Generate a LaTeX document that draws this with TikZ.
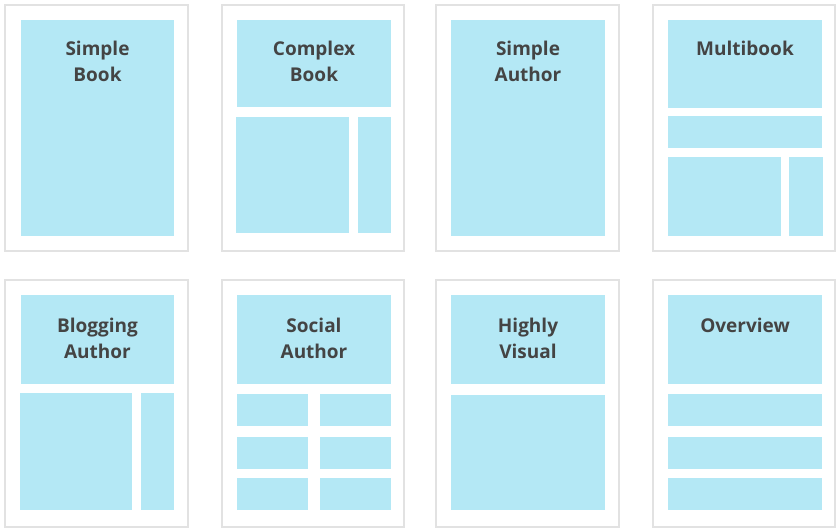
\documentclass[tikz,border=0pt]{standalone}
\usepackage{fontspec}
\setmainfont{Open Sans}
\definecolor{panel}{HTML}{B4E8F5}
\definecolor{frameline}{HTML}{E2E2E2}
\definecolor{ink}{HTML}{444444}
\tikzset{
  page/.style={draw=frameline, line width=1.6pt, fill=white},
  block/.style={fill=panel},
  label/.style={anchor=base, inner sep=0pt, text=ink, font=\fontsize{19}{24}\selectfont\bfseries}
}
\begin{document}
\begin{tikzpicture}[x=1pt,y=-1pt]
\useasboundingbox (0,0) rectangle (840,532);
\fill[white] (0,0) rectangle (840,532);

% ---------- top row ----------
% Simple Book
\draw[page] (5,5) rectangle (188,251);
\fill[block] (21,20) rectangle (174,236);
\node[label] (sb1) at (97.5,56) {Simple};
\node[label] (sb2) at (97.5,82) {Book};

% Complex Book
\draw[page] (222,5) rectangle (404,251);
\fill[block] (237,20) rectangle (391,107);
\fill[block] (236,117) rectangle (349,233);
\fill[block] (358,117) rectangle (391,233);
\node[label] (cb1) at (314,56) {Complex};
\node[label] (cb2) at (314,82) {Book};

% Simple Author
\draw[page] (436,5) rectangle (619,251);
\fill[block] (451,20) rectangle (605,236);
\node[label] (sa1) at (528,56) {Simple};
\node[label] (sa2) at (528,82) {Author};

% Multibook
\draw[page] (653,5) rectangle (835,251);
\fill[block] (668,20) rectangle (822,108);
\fill[block] (668,116) rectangle (822,148);
\fill[block] (668,157) rectangle (781,236);
\fill[block] (789,157) rectangle (823,236);
\node[label] (mb1) at (745,56) {Multibook};

% ---------- bottom row ----------
% Blogging Author
\draw[page] (5,280) rectangle (188,527);
\fill[block] (21,295) rectangle (174,384);
\fill[block] (20,393) rectangle (132,510);
\fill[block] (141,393) rectangle (174,510);
\node[label] (ba1) at (97.5,332) {Blogging};
\node[label] (ba2) at (97.5,358) {Author};

% Social Author
\draw[page] (222,280) rectangle (404,527);
\fill[block] (237,295) rectangle (391,384);
\foreach \ya/\yb in {394/426, 437/469, 478/510}{
  \fill[block] (237,\ya) rectangle (308,\yb);
  \fill[block] (320,\ya) rectangle (391,\yb);
}
\node[label] (so1) at (314,332) {Social};
\node[label] (so2) at (314,358) {Author};

% Highly Visual
\draw[page] (436,280) rectangle (619,527);
\fill[block] (451,295) rectangle (605,384);
\fill[block] (451,395) rectangle (605,510);
\node[label] (hv1) at (528,332) {Highly};
\node[label] (hv2) at (528,358) {Visual};

% Overview
\draw[page] (653,280) rectangle (835,527);
\fill[block] (668,295) rectangle (822,384);
\foreach \ya/\yb in {394/426, 437/469, 478/510}{
  \fill[block] (668,\ya) rectangle (822,\yb);
}
\node[label] (ov1) at (745,332) {Overview};
\end{tikzpicture}
\end{document}
